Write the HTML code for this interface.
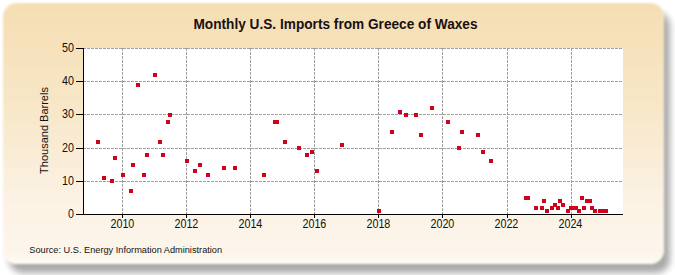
<!DOCTYPE html>
<html><head><meta charset="utf-8"><style>
html,body{margin:0;padding:0;background:#fff;width:675px;height:275px;overflow:hidden}
#frame{position:absolute;left:3px;top:3px;width:661px;height:261px;border-radius:14px;
background:linear-gradient(to bottom,#f5deb3 0%,#f8e7c8 40%,#fcf2e4 75%,#fdf6ec 97%,#fffcf6 100%);
box-shadow:6px 9px 6px rgba(0,0,0,0.34);filter:blur(1.2px)}
svg{position:absolute;left:0;top:0}
text{font-family:"Liberation Sans",sans-serif}
</style></head><body>
<div id="frame"></div>
<svg width="675" height="275" viewBox="0 0 675 275">
<text transform="translate(335.5,29) scale(0.976,1)" text-anchor="middle" font-weight="bold" font-size="14" fill="#1a1010">Monthly U.S. Imports from Greece of Waxes</text>
<rect x="84" y="48" width="539" height="166" fill="#fff"/>
<g stroke="#a0a0a0" stroke-width="1" stroke-dasharray="3,1" shape-rendering="crispEdges">
<line x1="84" y1="48.5" x2="623" y2="48.5" stroke-dashoffset="1"/><line x1="84" y1="81.5" x2="623" y2="81.5" stroke-dashoffset="1"/><line x1="84" y1="114.5" x2="623" y2="114.5" stroke-dashoffset="1"/><line x1="84" y1="148.5" x2="623" y2="148.5" stroke-dashoffset="1"/><line x1="84" y1="181.5" x2="623" y2="181.5" stroke-dashoffset="1"/><line x1="122.5" y1="48" x2="122.5" y2="214"/><line x1="186.5" y1="48" x2="186.5" y2="214"/><line x1="250.5" y1="48" x2="250.5" y2="214"/><line x1="314.5" y1="48" x2="314.5" y2="214"/><line x1="378.5" y1="48" x2="378.5" y2="214"/><line x1="442.5" y1="48" x2="442.5" y2="214"/><line x1="507.5" y1="48" x2="507.5" y2="214"/><line x1="571.5" y1="48" x2="571.5" y2="214"/>
</g>
<g stroke="#000" stroke-width="1" shape-rendering="crispEdges">
<line x1="83.5" y1="48" x2="83.5" y2="215"/>
<line x1="83" y1="214.5" x2="623" y2="214.5"/>
<line x1="76" y1="48.5" x2="84" y2="48.5"/><line x1="76" y1="81.5" x2="84" y2="81.5"/><line x1="76" y1="114.5" x2="84" y2="114.5"/><line x1="76" y1="148.5" x2="84" y2="148.5"/><line x1="76" y1="181.5" x2="84" y2="181.5"/><line x1="76" y1="214.5" x2="84" y2="214.5"/><line x1="122.5" y1="214" x2="122.5" y2="218"/><line x1="186.5" y1="214" x2="186.5" y2="218"/><line x1="250.5" y1="214" x2="250.5" y2="218"/><line x1="314.5" y1="214" x2="314.5" y2="218"/><line x1="378.5" y1="214" x2="378.5" y2="218"/><line x1="442.5" y1="214" x2="442.5" y2="218"/><line x1="507.5" y1="214" x2="507.5" y2="218"/><line x1="571.5" y1="214" x2="571.5" y2="218"/>
</g>
<g font-size="12.5" fill="#111">
<text transform="translate(74,218) scale(0.86,1)" text-anchor="end">0</text><text transform="translate(74,185) scale(0.86,1)" text-anchor="end">10</text><text transform="translate(74,152) scale(0.86,1)" text-anchor="end">20</text><text transform="translate(74,118) scale(0.86,1)" text-anchor="end">30</text><text transform="translate(74,85) scale(0.86,1)" text-anchor="end">40</text><text transform="translate(74,52) scale(0.86,1)" text-anchor="end">50</text>
<text transform="translate(122.4,227.7) scale(0.86,1)" text-anchor="middle">2010</text><text transform="translate(186.4,227.7) scale(0.86,1)" text-anchor="middle">2012</text><text transform="translate(250.4,227.7) scale(0.86,1)" text-anchor="middle">2014</text><text transform="translate(314.4,227.7) scale(0.86,1)" text-anchor="middle">2016</text><text transform="translate(378.4,227.7) scale(0.86,1)" text-anchor="middle">2018</text><text transform="translate(442.4,227.7) scale(0.86,1)" text-anchor="middle">2020</text><text transform="translate(506.4,227.7) scale(0.86,1)" text-anchor="middle">2022</text><text transform="translate(570.4,227.7) scale(0.86,1)" text-anchor="middle">2024</text>
</g>
<text transform="translate(47.5,130.5) rotate(-90)" text-anchor="middle" font-size="11" fill="#111">Thousand Barrels</text>
<text transform="translate(29.3,252.8) scale(0.97,1)" font-size="9.5" fill="#111">Source: U.S. Energy Information Administration</text>
<g fill="#d0021b" shape-rendering="crispEdges">
<rect x="96" y="140" width="4" height="4"/><rect x="102" y="176" width="4" height="4"/><rect x="110" y="179" width="4" height="4"/><rect x="113" y="156" width="4" height="4"/><rect x="121" y="173" width="4" height="4"/><rect x="129" y="189" width="4" height="4"/><rect x="131" y="163" width="4" height="4"/><rect x="136" y="83" width="4" height="4"/><rect x="142" y="173" width="4" height="4"/><rect x="145" y="153" width="4" height="4"/><rect x="153" y="73" width="4" height="4"/><rect x="158" y="140" width="4" height="4"/><rect x="161" y="153" width="4" height="4"/><rect x="166" y="120" width="4" height="4"/><rect x="168" y="113" width="4" height="4"/><rect x="185" y="159" width="4" height="4"/><rect x="193" y="169" width="4" height="4"/><rect x="198" y="163" width="4" height="4"/><rect x="206" y="173" width="4" height="4"/><rect x="222" y="166" width="4" height="4"/><rect x="233" y="166" width="4" height="4"/><rect x="262" y="173" width="4" height="4"/><rect x="273" y="120" width="4" height="4"/><rect x="275" y="120" width="4" height="4"/><rect x="283" y="140" width="4" height="4"/><rect x="297" y="146" width="4" height="4"/><rect x="305" y="153" width="4" height="4"/><rect x="310" y="150" width="4" height="4"/><rect x="315" y="169" width="4" height="4"/><rect x="340" y="143" width="4" height="4"/><rect x="377" y="209" width="4" height="4"/><rect x="390" y="130" width="4" height="4"/><rect x="398" y="110" width="4" height="4"/><rect x="404" y="113" width="4" height="4"/><rect x="414" y="113" width="4" height="4"/><rect x="419" y="133" width="4" height="4"/><rect x="430" y="106" width="4" height="4"/><rect x="446" y="120" width="4" height="4"/><rect x="457" y="146" width="4" height="4"/><rect x="460" y="130" width="4" height="4"/><rect x="476" y="133" width="4" height="4"/><rect x="481" y="150" width="4" height="4"/><rect x="489" y="159" width="4" height="4"/><rect x="524" y="196" width="4" height="4"/><rect x="526" y="196" width="4" height="4"/><rect x="534" y="206" width="4" height="4"/><rect x="540" y="206" width="4" height="4"/><rect x="542" y="199" width="4" height="4"/><rect x="545" y="209" width="4" height="4"/><rect x="550" y="206" width="4" height="4"/><rect x="553" y="203" width="4" height="4"/><rect x="556" y="206" width="4" height="4"/><rect x="558" y="199" width="4" height="4"/><rect x="561" y="203" width="4" height="4"/><rect x="566" y="209" width="4" height="4"/><rect x="569" y="206" width="4" height="4"/><rect x="572" y="206" width="4" height="4"/><rect x="574" y="206" width="4" height="4"/><rect x="577" y="209" width="4" height="4"/><rect x="580" y="196" width="4" height="4"/><rect x="582" y="206" width="4" height="4"/><rect x="585" y="199" width="4" height="4"/><rect x="588" y="199" width="4" height="4"/><rect x="590" y="206" width="4" height="4"/><rect x="593" y="209" width="4" height="4"/><rect x="598" y="209" width="4" height="4"/><rect x="601" y="209" width="4" height="4"/><rect x="604" y="209" width="4" height="4"/>
</g>
</svg>
</body></html>
